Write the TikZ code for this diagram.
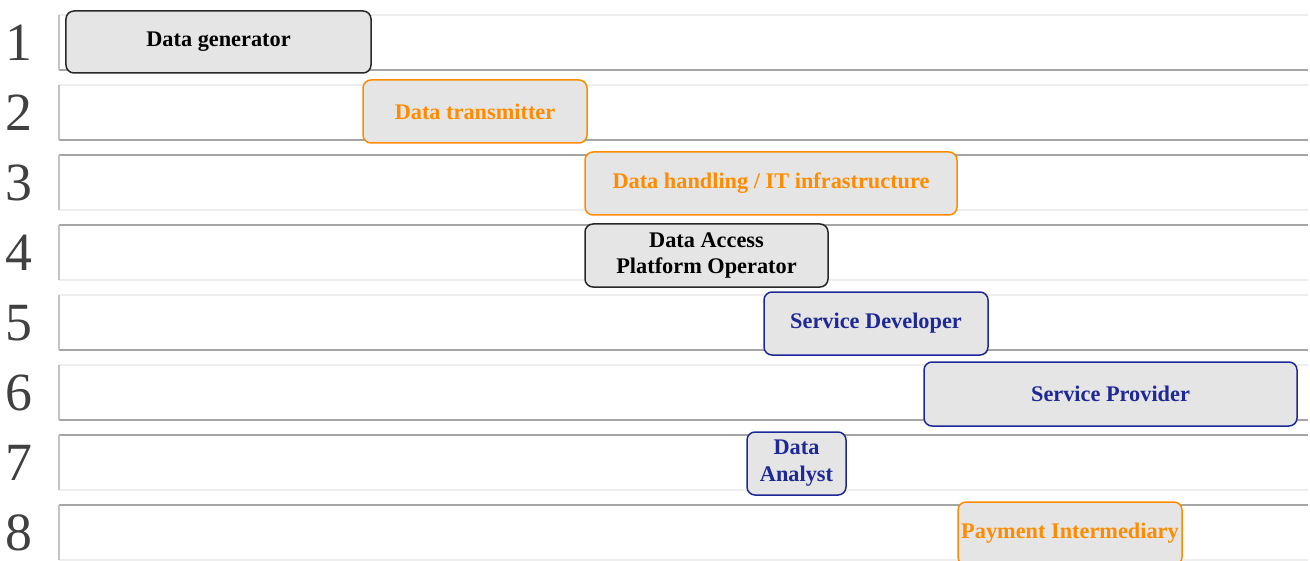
\documentclass[tikz,border=0pt]{standalone}
\usepackage{fontspec}
\setmainfont{Liberation Serif}
\definecolor{roleorange}{RGB}{255,140,0}
\definecolor{roleblue}{RGB}{30,40,150}
\definecolor{roledark}{RGB}{40,40,40}
\definecolor{boxfill}{RGB}{229,229,229}
\definecolor{lanedark}{RGB}{165,165,165}
\definecolor{lanefaint}{RGB}{238,238,238}
\definecolor{laneside}{RGB}{195,195,195}
\definecolor{numgray}{RGB}{64,64,64}
\tikzset{
  role/.style={draw, fill=boxfill, rounded corners=8bp, line width=1.5bp,
    inner sep=0pt, outer sep=0pt, align=center,
    font=\fontsize{22.4}{27}\selectfont\bfseries},
  blackrole/.style={role, draw=roledark, text=black},
  orangerole/.style={role, draw=roleorange, text=roleorange},
  bluerole/.style={role, draw=roleblue, text=roleblue},
  lanenum/.style={text=numgray, inner sep=0pt, font=\fontsize{54}{54}\selectfont},
}
\begin{document}
\begin{tikzpicture}[x=1bp,y=-1bp]
\useasboundingbox (0,0) rectangle (1310,561);
\fill[white] (0,0) rectangle (1310,561);
% swim lanes: top edge, bottom edge, left edge
\foreach \i/\topc/\botc in {1/lanefaint/lanedark,2/lanefaint/lanedark,3/lanedark/lanefaint,
    4/lanedark/lanefaint,5/lanefaint/lanedark,6/lanefaint/lanedark,
    7/lanedark/lanefaint,8/lanedark/lanefaint}{
  \pgfmathsetmacro{\yt}{15+70*(\i-1)}
  \pgfmathsetmacro{\yb}{\yt+55}
  \draw[line width=1.5bp, \topc] (59,\yt) -- (1308,\yt);
  \draw[line width=1.5bp, \botc] (59,\yb) -- (1308,\yb);
  \draw[line width=1.5bp, laneside] (59,\yt) -- (59,\yb);
  \node[lanenum] (num\i) at (19,\yt+28) {\i};
}
% role boxes
\node[blackrole, minimum width=305bp, minimum height=62bp] (gen) at (218.5,42) {Data generator};
\node[orangerole, minimum width=224bp, minimum height=63bp] (trans) at (475,111.5) {Data transmitter};
\node[orangerole, minimum width=372bp, minimum height=63bp] (infra) at (771,183.5) {Data handling / IT infrastructure};
\node[blackrole, minimum width=243bp, minimum height=63bp] (platform) at (706.5,255.5) {Data Access\\Platform Operator};
\node[bluerole, minimum width=224bp, minimum height=63bp] (dev) at (876,323.5) {Service Developer};
\node[bluerole, minimum width=373bp, minimum height=64bp] (prov) at (1110.5,394) {Service Provider};
\node[bluerole, minimum width=99bp, minimum height=63bp] (analyst) at (796.5,463.5) {Data\\Analyst};
\node[orangerole, minimum width=224bp, minimum height=63bp] (pay) at (1070,533.5) {Payment Intermediary};
\end{tikzpicture}
\end{document}
